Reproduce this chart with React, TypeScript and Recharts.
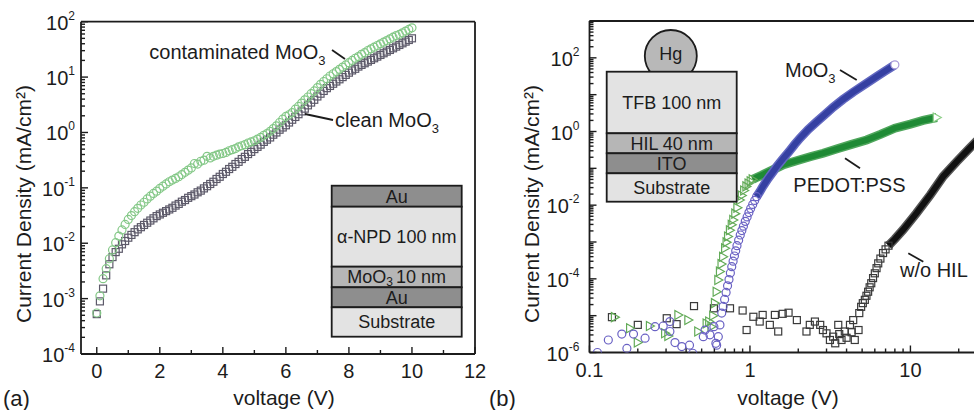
import React from 'react';
import { ComposedChart, Scatter, Line, XAxis, YAxis } from 'recharts';

const FONT = '"Liberation Sans", Arial, sans-serif';
const INK = '#1c1c1c';

// ---- panel (a): J-V of Au/MoO3/a-NPD/Au, values read as log10(J / mA cm^-2)
const voltageA = [
  0, 0.1, 0.2, 0.3, 0.4, 0.5, 0.6, 0.7, 0.8, 0.9,
  1, 1.1, 1.2, 1.3, 1.4, 1.5, 1.6, 1.7, 1.8, 1.9,
  2, 2.1, 2.2, 2.3, 2.4, 2.5, 2.6, 2.7, 2.8, 2.9,
  3, 3.1, 3.2, 3.3, 3.4, 3.5, 3.6, 3.7, 3.8, 3.9,
  4, 4.1, 4.2, 4.3, 4.4, 4.5, 4.6, 4.7, 4.8, 4.9,
  5, 5.1, 5.2, 5.3, 5.4, 5.5, 5.6, 5.7, 5.8, 5.9,
  6, 6.1, 6.2, 6.3, 6.4, 6.5, 6.6, 6.7, 6.8, 6.9,
  7, 7.1, 7.2, 7.3, 7.4, 7.5, 7.6, 7.7, 7.8, 7.9,
  8, 8.1, 8.2, 8.3, 8.4, 8.5, 8.6, 8.7, 8.8, 8.9,
  9, 9.1, 9.2, 9.3, 9.4, 9.5, 9.6, 9.7, 9.8, 9.9,
  10,
];
const contaminatedLogJ = [
  -3.26, -2.95, -2.64, -2.46, -2.28, -2.12, -1.99, -1.87, -1.76, -1.66,
  -1.57, -1.5, -1.43, -1.37, -1.31, -1.26, -1.2, -1.15, -1.1, -1.06,
  -1.01, -0.97, -0.93, -0.89, -0.86, -0.83, -0.8, -0.76, -0.72, -0.68,
  -0.64, -0.56, -0.57, -0.52, -0.5, -0.43, -0.46, -0.43, -0.41, -0.39,
  -0.38, -0.36, -0.33, -0.31, -0.29, -0.26, -0.24, -0.22, -0.19, -0.17,
  -0.15, -0.12, -0.09, -0.05, -0.02, 0.02, 0.07, 0.12, 0.18, 0.24,
  0.29, 0.32, 0.36, 0.42, 0.47, 0.53, 0.59, 0.64, 0.7, 0.75,
  0.81, 0.87, 0.92, 0.97, 1.02, 1.06, 1.1, 1.14, 1.18, 1.22,
  1.26, 1.3, 1.34, 1.37, 1.41, 1.44, 1.48, 1.51, 1.54, 1.57,
  1.6, 1.63, 1.66, 1.69, 1.72, 1.75, 1.77, 1.8, 1.83, 1.86,
  1.89,
];
const cleanLogJ = [
  -3.28, -3.05, -2.82, -2.58, -2.38, -2.25, -2.16, -2.1, -2.02, -1.96,
  -1.9, -1.85, -1.8, -1.75, -1.71, -1.67, -1.63, -1.59, -1.55, -1.51,
  -1.48, -1.45, -1.42, -1.39, -1.36, -1.32, -1.29, -1.25, -1.22, -1.18,
  -1.15, -1.12, -1.08, -1.05, -1.01, -0.97, -0.93, -0.89, -0.84, -0.8,
  -0.75, -0.71, -0.66, -0.62, -0.57, -0.53, -0.48, -0.44, -0.39, -0.35,
  -0.3, -0.26, -0.22, -0.17, -0.13, -0.09, -0.04, 0, 0.05, 0.09,
  0.13, 0.18, 0.23, 0.28, 0.33, 0.38, 0.43, 0.49, 0.54, 0.59,
  0.65, 0.7, 0.75, 0.8, 0.84, 0.88, 0.92, 0.96, 1, 1.04,
  1.08, 1.12, 1.15, 1.19, 1.22, 1.25, 1.28, 1.31, 1.34, 1.37,
  1.4, 1.43, 1.46, 1.49, 1.52, 1.55, 1.58, 1.61, 1.64, 1.67,
  1.7,
];

// ---- panel (b): Hg-probe J-V, log voltage axis
const moo3V = [
  0.112, 0.131, 0.159, 0.171, 0.188, 0.222, 0.256, 0.288, 0.317, 0.317, 0.341, 0.376, 0.42, 0.44,
  0.512, 0.525, 0.563, 0.596, 0.613,
  0.62, 0.635, 0.65, 0.667, 0.68, 0.695, 0.71, 0.725, 0.74, 0.755, 0.77, 0.785, 0.8, 0.815, 0.83,
  0.85, 0.87, 0.89, 0.91, 0.935, 0.96, 0.985, 1.01, 1.04, 1.07, 1.1,
];
const moo3LogJ = [
  -6.0, -5.66, -5.5, -5.89, -5.5, -5.61, -5.3, -5.28, -5.16, -5.43, -5.73, -5.84, -5.8, -6.02,
  -5.57, -5.39, -5.52, -5.3, -5.75,
  -5.8, -5.57, -5.25, -4.93, -4.75, -4.56, -4.37, -4.19, -4.02, -3.84, -3.67, -3.52, -3.38, -3.24, -3.1,
  -2.95, -2.81, -2.69, -2.57, -2.44, -2.32, -2.2, -2.09, -1.98, -1.87, -1.77,
];
const moo3BandV = [1.1, 1.15, 1.2, 1.3, 1.4, 1.47, 1.6, 1.75, 1.9, 2.05, 2.3, 2.6, 3.0, 3.3, 3.8, 4.4, 5.33, 6.2, 7.0, 8.0];
const moo3BandLogJ = [-1.77, -1.64, -1.5, -1.27, -1.08, -0.95, -0.75, -0.55, -0.35, -0.18, 0.05, 0.26, 0.5, 0.66, 0.87, 1.07, 1.31, 1.5, 1.65, 1.81];

const pedotV = [
  0.144, 0.179, 0.2, 0.238, 0.296, 0.31, 0.358, 0.413, 0.476, 0.537, 0.557,
  0.575, 0.59, 0.605, 0.62, 0.635, 0.65, 0.665, 0.68, 0.7, 0.715, 0.73, 0.75, 0.77, 0.787, 0.81,
  0.835, 0.865, 0.89, 0.92, 0.95, 0.98, 1.01, 1.04,
];
const pedotLogJ = [
  -5.04, -5.34, -5.73, -5.28, -5.48, -5.55, -4.98, -5.12, -5.43, -5.21, -5.16,
  -5.3, -5.0, -4.66, -4.35, -4.03, -3.8, -3.6, -3.4, -3.17, -3.01, -2.85, -2.68, -2.53, -2.4, -2.23,
  -2.07, -1.86, -1.74, -1.6, -1.49, -1.41, -1.35, -1.3,
];
const pedotBandV = [1.04, 1.1, 1.18, 1.27, 1.45, 1.62, 2.0, 2.4, 2.86, 3.5, 4.3, 5.33, 6.5, 8.0, 10.0, 12.0, 14.6];
const pedotBandLogJ = [-1.3, -1.25, -1.19, -1.12, -1.0, -0.9, -0.78, -0.68, -0.59, -0.47, -0.35, -0.23, -0.08, 0.09, 0.2, 0.3, 0.38];

const noHilV = [
  0.138, 0.2, 0.303, 0.349, 0.448, 0.596, 0.751, 0.9, 0.953, 1.05, 1.15, 1.2, 1.33, 1.43, 1.5, 1.6,
  1.74, 1.96, 2.25, 2.36, 2.54, 2.74, 2.85, 3.0, 3.15, 3.3, 3.4, 3.55, 3.6, 3.72, 3.9, 4.0, 4.2,
  4.3, 4.4, 4.5, 4.75,
  4.8, 4.93, 5.05, 5.2, 5.32, 5.45, 5.57, 5.7, 5.85, 6.0, 6.15, 6.3, 6.5, 6.75, 7.0, 7.3,
];
const noHilLogJ = [
  -5.04, -5.25, -5.07, -5.23, -4.74, -4.8, -4.8, -4.86, -5.39, -5.03, -5.16, -4.98, -5.25, -4.98, -5.43, -4.95,
  -4.92, -5.12, -5.43, -5.25, -5.16, -5.25, -5.39, -5.48, -5.66, -5.57, -5.75, -5.25, -5.5, -5.66, -5.43, -5.6, -5.25,
  -5.45, -5.12, -5.66, -5.39,
  -4.93, -4.76, -4.66, -4.57, -4.46, -4.35, -4.23, -4.12, -3.98, -3.85, -3.71, -3.58, -3.45, -3.3, -3.2, -3.1,
];
const noHilBandV = [7.3, 8.0, 9.0, 10.9, 13.3, 16.0, 19.4, 23.4, 26.0];
const noHilBandLogJ = [-3.1, -2.92, -2.67, -2.22, -1.72, -1.22, -0.82, -0.45, -0.25];

// tick layout
const xTicksA = [0, 1, 2, 3, 4, 5, 6, 7, 8, 9, 10, 11, 12];
const decadesA = [-4, -3, -2, -1, 0, 1];
const decadesB = [-6, -5, -4, -3, -2, -1, 0, 1, 2];
const decadesX = [-1, 0, 1];
const mantissas = [1, 2, 3, 4, 5, 6, 7, 8, 9];

const logTicks = (decades: number[], top: number) =>
  [...decades.flatMap((d) => mantissas.map((m) => m * 10 ** d)), 10 ** top];
const yTicksA = logTicks(decadesA, 2);
const yTicksB = logTicks(decadesB, 3);
const xTicksB = [...logTicks(decadesX, 2).filter((v) => v < 25)];

const pts = (vs: number[], ls: number[]) => vs.map((v, i) => ({ v, j: 10 ** ls[i] }));

const contaminated = pts(voltageA, contaminatedLogJ);
const clean = pts(voltageA, cleanLogJ);
const moo3 = pts(moo3V, moo3LogJ);
const moo3Band = pts(moo3BandV, moo3BandLogJ);
const pedot = pts(pedotV, pedotLogJ);
const pedotBand = pts(pedotBandV, pedotBandLogJ);
const noHil = pts(noHilV, noHilLogJ);
const noHilBand = pts(noHilBandV, noHilBandLogJ);

const isDecade = (v: number) => {
  const e = Math.log10(v);
  return Math.abs(e - Math.round(e)) < 1e-6;
};

const makeYTick = (labelStep: number, gap: number) => (props: any) => {
  const { x, y, payload } = props;
  const major = isDecade(payload.value);
  const k = Math.round(Math.log10(payload.value));
  return (
    <g>
      <line x1={x} y1={y} x2={x + (major ? 7 : 4)} y2={y} stroke={INK} strokeWidth={1.4} />
      {major && k % labelStep === 0 && (
        <text x={x - gap} y={y + 8} textAnchor="end" fontSize={20} fill={INK} fontFamily={FONT}>
          10
          <tspan dy={-10} fontSize={12}>
            {k}
          </tspan>
        </text>
      )}
    </g>
  );
};

const makeXTick = (isMajor: (v: number) => boolean, label: (v: number) => string) => (props: any) => {
  const { x, y, payload } = props;
  const major = isMajor(payload.value);
  return (
    <g>
      <line x1={x} y1={y} x2={x} y2={y - (major ? 7 : 4)} stroke={INK} strokeWidth={1.4} />
      {major && (
        <text x={x} y={y + 24} textAnchor="middle" fontSize={20} fill={INK} fontFamily={FONT}>
          {label(payload.value)}
        </text>
      )}
    </g>
  );
};

const circle = (stroke: string) => (p: any) => (
  <circle cx={p.cx} cy={p.cy} r={4} fill="none" stroke={stroke} strokeWidth={1.2} />
);
const square = (stroke: string) => (p: any) => (
  <rect x={p.cx - 3.5} y={p.cy - 3.5} width={7} height={7} fill="none" stroke={stroke} strokeWidth={1.2} />
);
const triangle = (stroke: string) => (p: any) => (
  <polygon
    points={`${p.cx - 3.5},${p.cy - 4.5} ${p.cx + 4.5},${p.cy} ${p.cx - 3.5},${p.cy + 4.5}`}
    fill="none"
    stroke={stroke}
    strokeWidth={1.2}
  />
);

const endMarker = (n: number, kind: 'circle' | 'tri', stroke: string) => (p: any) => {
  if (p.index !== n - 1) return <g key={`e${p.index}`} />;
  if (kind === 'circle')
    return <circle key="end" cx={p.cx} cy={p.cy} r={4} fill="#fff" stroke={stroke} strokeWidth={1.2} />;
  return (
    <polygon
      key="end"
      points={`${p.cx - 3.5},${p.cy - 4.5} ${p.cx + 4.5},${p.cy} ${p.cx - 3.5},${p.cy + 4.5}`}
      fill="#fff"
      stroke={stroke}
      strokeWidth={1.2}
    />
  );
};

const axisLine = { stroke: INK, strokeWidth: 1.8 };

function PanelA() {
  return (
    <ComposedChart width={490} height={410} margin={{ top: 21.7, right: 15, bottom: 26, left: 0 }}>
      <XAxis
        type="number"
        dataKey="v"
        domain={[-0.5, 12]}
        ticks={xTicksA}
        interval={0}
        allowDataOverflow
        height={30}
        tickSize={0}
        tickMargin={0}
        tickLine={false}
        axisLine={axisLine}
        tick={makeXTick((v) => v % 2 === 0, (v) => String(v))}
      />
      <YAxis
        type="number"
        dataKey="j"
        scale="log"
        domain={[1e-4, 100]}
        ticks={yTicksA}
        interval={0}
        allowDataOverflow
        width={81}
        tickSize={0}
        tickMargin={0}
        tickLine={false}
        axisLine={axisLine}
        tick={makeYTick(1, 6)}
      />
      <Scatter data={clean} shape={square('#5d5a6a')} isAnimationActive={false} />
      <Scatter data={contaminated} shape={circle('#84c887')} isAnimationActive={false} />
    </ComposedChart>
  );
}

function PanelB() {
  return (
    <ComposedChart width={484} height={410} margin={{ top: 21, right: 0, bottom: 27.5, left: 0 }}>
      <XAxis
        type="number"
        dataKey="v"
        scale="log"
        domain={[0.1, 24.9]}
        ticks={xTicksB}
        interval={0}
        allowDataOverflow
        height={30}
        tickSize={0}
        tickMargin={0}
        tickLine={false}
        axisLine={axisLine}
        tick={makeXTick(isDecade, (v) => (v < 0.5 ? '0.1' : String(Math.round(v))))}
      />
      <YAxis
        type="number"
        dataKey="j"
        scale="log"
        domain={[1e-6, 1000]}
        ticks={yTicksB}
        interval={0}
        allowDataOverflow
        width={99.5}
        tickSize={0}
        tickMargin={0}
        tickLine={false}
        axisLine={axisLine}
        tick={makeYTick(2, 10)}
      />
      <Scatter data={noHil} shape={square('#3a3a3a')} isAnimationActive={false} />
      <Line data={noHilBand} dataKey="j" stroke="#555" strokeWidth={9} dot={false} isAnimationActive={false} />
      <Line data={noHilBand} dataKey="j" stroke="#111" strokeWidth={6} dot={false} isAnimationActive={false} />
      <Scatter data={pedot} shape={triangle('#63ab58')} isAnimationActive={false} />
      <Line data={pedotBand} dataKey="j" stroke="#4fa65c" strokeWidth={9} dot={false} isAnimationActive={false} />
      <Line
        data={pedotBand}
        dataKey="j"
        stroke="#1f8a35"
        strokeWidth={6}
        dot={endMarker(pedotBand.length, 'tri', '#8fcf8a')}
        isAnimationActive={false}
      />
      <Scatter data={moo3} shape={circle('#6a62c4')} isAnimationActive={false} />
      <Line data={moo3Band} dataKey="j" stroke="#6268c0" strokeWidth={9} dot={false} isAnimationActive={false} />
      <Line
        data={moo3Band}
        dataKey="j"
        stroke="#3540a2"
        strokeWidth={6}
        dot={endMarker(moo3Band.length, 'circle', '#a99ad8')}
        isAnimationActive={false}
      />
    </ComposedChart>
  );
}

const Sub = ({ children }: { children: string }) => (
  <tspan dy={6} fontSize={13}>
    {children}
  </tspan>
);

function Overlay() {
  const layer = (x: number, y0: number, y1: number, w: number, fill: string) => (
    <rect x={x} y={y0} width={w} height={y1 - y0} fill={fill} stroke={INK} strokeWidth={1.8} />
  );
  return (
    <svg
      width={974}
      height={410}
      style={{ position: 'absolute', left: 0, top: 0, pointerEvents: 'none' }}
      fontFamily={FONT}
      fill={INK}
    >
      {/* frames */}
      <line x1={81} y1={21.7} x2={475} y2={21.7} stroke={INK} strokeWidth={1.8} />
      <line x1={475} y1={21.7} x2={475} y2={354} stroke={INK} strokeWidth={1.8} />
      <line x1={589.5} y1={21} x2={974} y2={21} stroke={INK} strokeWidth={1.8} />

      {/* axis titles */}
      <text x={23} y={204} transform="rotate(-90 23 204)" textAnchor="middle" dominantBaseline="central" fontSize={21}>
        Current Density (mA/cm²)
      </text>
      <text x={531} y={204} transform="rotate(-90 531 204)" textAnchor="middle" dominantBaseline="central" fontSize={21}>
        Current Density (mA/cm²)
      </text>
      <text x={284} y={405} textAnchor="middle" fontSize={21}>voltage (V)</text>
      <text x={788} y={405} textAnchor="middle" fontSize={21}>voltage (V)</text>
      <text x={3} y={406} fontSize={22}>(a)</text>
      <text x={489} y={406} fontSize={22}>(b)</text>

      {/* inset (a) */}
      {layer(331.7, 185.7, 206.7, 130, '#8e8e8e')}
      {layer(331.7, 206.7, 266.7, 130, '#e3e3e3')}
      {layer(331.7, 266.7, 287.3, 130, '#b6b6b6')}
      {layer(331.7, 287.3, 307.3, 130, '#8e8e8e')}
      {layer(331.7, 307.3, 336.7, 130, '#e3e3e3')}
      <g fontSize={18} textAnchor="middle">
        <text x={396.7} y={202.5}>Au</text>
        <text x={396.7} y={243}>α-NPD 100 nm</text>
        <text x={396.7} y={283}>
          MoO<tspan dy={3} fontSize={12}>3</tspan>
          <tspan dy={-3} dx={3}>10 nm</tspan>
        </text>
        <text x={396.7} y={304}>Au</text>
        <text x={396.7} y={328}>Substrate</text>
      </g>

      {/* inset (b) */}
      <circle cx={670.8} cy={56} r={26} fill="#b8b8b8" stroke={INK} strokeWidth={1.8} />
      {layer(606.7, 71.7, 133.3, 130, '#e3e3e3')}
      {layer(606.7, 133.3, 153.3, 130, '#b6b6b6')}
      {layer(606.7, 153.3, 173.3, 130, '#8e8e8e')}
      {layer(606.7, 173.3, 201.7, 130, '#e3e3e3')}
      <g fontSize={18} textAnchor="middle">
        <text x={670.8} y={60}>Hg</text>
        <text x={671.7} y={109}>TFB 100 nm</text>
        <text x={671.7} y={149.5}>HIL 40 nm</text>
        <text x={671.7} y={169.5}>ITO</text>
        <text x={671.7} y={194}>Substrate</text>
      </g>

      {/* annotations */}
      <g fontSize={20}>
        <text x={149.3} y={58.5}>
          contaminated MoO<Sub>3</Sub>
        </text>
        <text x={335} y={127}>
          clean MoO<Sub>3</Sub>
        </text>
        <text x={785} y={77}>
          MoO<Sub>3</Sub>
        </text>
        <text x={793.3} y={192}>PEDOT:PSS</text>
        <text x={900} y={277}>w/o HIL</text>
      </g>
      <g stroke={INK} strokeWidth={1.8}>
        <line x1={332} y1={50} x2={345} y2={59} />
        <line x1={305} y1={114} x2={333} y2={120} />
        <line x1={840} y1={70} x2={856.7} y2={80} />
        <line x1={845} y1={158.3} x2={860} y2={168.3} />
        <line x1={908.3} y1={253.3} x2={923.3} y2={261.7} />
      </g>
    </svg>
  );
}

export default function App() {
  return (
    <div
      style={{
        position: 'absolute',
        left: 0,
        top: 0,
        width: 974,
        height: 410,
        background: '#fff',
        overflow: 'hidden',
        fontFamily: FONT,
      }}
    >
      <div style={{ position: 'absolute', left: 0, top: 0 }}>
        <PanelA />
      </div>
      <div style={{ position: 'absolute', left: 490, top: 0 }}>
        <PanelB />
      </div>
      <Overlay />
    </div>
  );
}
